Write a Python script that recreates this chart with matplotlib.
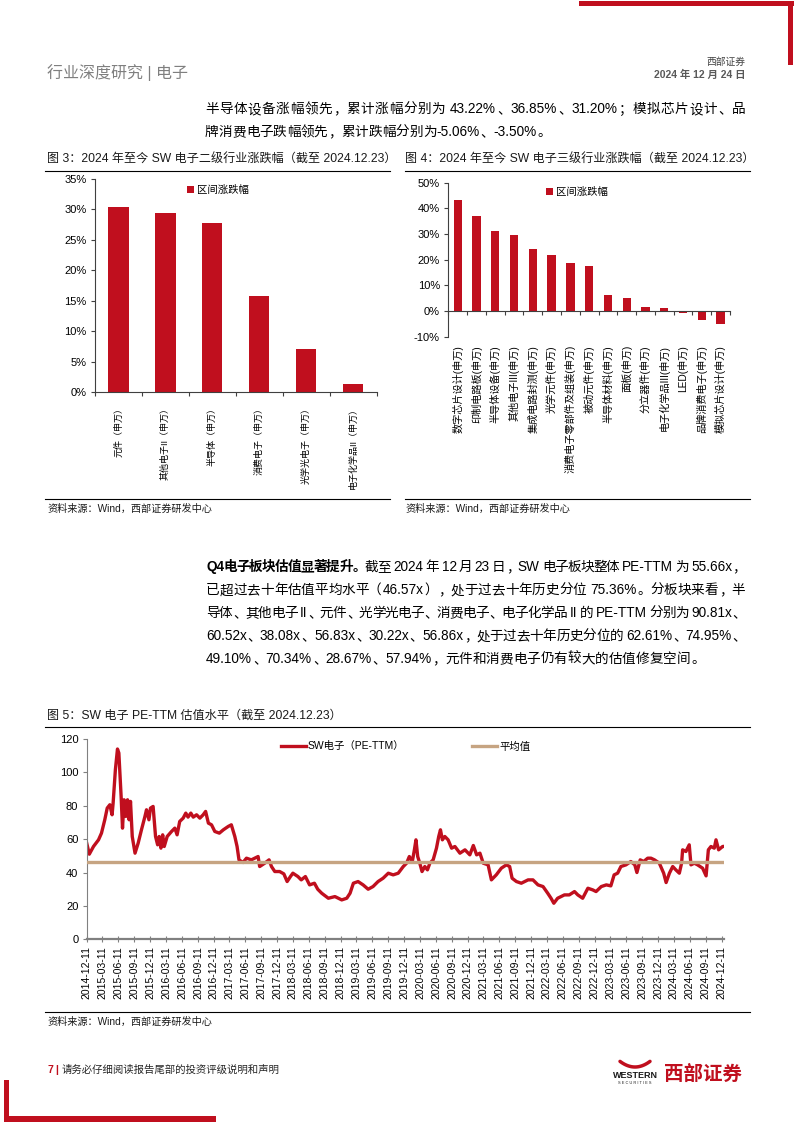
import re
import matplotlib
matplotlib.use('Agg')
import matplotlib.pyplot as plt
from matplotlib.patches import Rectangle, Patch
from matplotlib.lines import Line2D
from matplotlib.font_manager import FontProperties, findfont, get_font
import numpy as np
import pandas as pd

plt.rcParams['font.family'] = ['Liberation Sans', 'Noto Sans CJK SC', 'DejaVu Sans']
plt.rcParams['axes.unicode_minus'] = False

# ---------------- data ----------------
cat3 = ['元件（申万）', '其他电子II（申万）', '半导体（申万）', '消费电子（申万）',
        '光学光电子（申万）', '电子化学品II（申万）']
val3 = [30.4, 29.4, 27.7, 15.8, 7.1, 1.4]

cat4 = ['数字芯片设计(申万)', '印制电路板(申万)', '半导体设备(申万)', '其他电子III(申万)',
        '集成电路封测(申万)', '光学元件(申万)', '消费电子零部件及组装(申万)', '被动元件(申万)',
        '半导体材料(申万)', '面板(申万)', '分立器件(申万)', '电子化学品III(申万)',
        'LED(申万)', '品牌消费电子(申万)', '模拟芯片设计(申万)']
val4 = [43.22, 36.85, 31.20, 29.5, 24.0, 21.7, 18.6, 17.7, 6.1, 5.2, 1.4, 1.3,
        -0.6, -3.50, -5.06]

pe_dates = [
    '2014-12-11', '2014-12-26', '2015-01-19', '2015-02-17', '2015-03-06', '2015-03-25',
    '2015-04-08', '2015-04-23', '2015-05-06', '2015-05-12', '2015-05-25', '2015-06-06',
    '2015-06-14', '2015-06-20', '2015-06-27', '2015-07-05', '2015-07-14', '2015-07-24',
    '2015-08-03', '2015-08-12', '2015-08-20', '2015-08-30', '2015-09-15', '2015-10-03',
    '2015-10-22', '2015-11-11', '2015-11-20', '2015-12-04', '2015-12-13', '2015-12-28',
    '2016-01-11', '2016-01-23', '2016-02-01', '2016-02-11', '2016-02-21', '2016-03-01',
    '2016-03-18', '2016-04-12', '2016-05-01', '2016-05-14', '2016-05-29', '2016-06-18',
    '2016-07-03', '2016-07-16', '2016-08-01', '2016-08-15', '2016-09-03', '2016-09-22',
    '2016-10-11', '2016-10-25', '2016-11-10', '2016-11-28', '2016-12-17', '2017-01-12',
    '2017-02-04', '2017-03-04', '2017-03-22', '2017-04-11', '2017-04-24', '2017-05-05',
    '2017-05-28', '2017-06-17', '2017-07-15', '2017-08-03', '2017-08-23', '2017-09-01',
    '2017-09-30', '2017-10-25', '2017-11-08', '2017-11-27', '2017-12-25', '2018-01-18',
    '2018-02-06', '2018-02-25', '2018-03-11', '2018-04-09', '2018-04-28', '2018-05-22',
    '2018-06-15', '2018-07-13', '2018-08-01', '2018-08-24', '2018-10-01', '2018-11-08',
    '2018-12-17', '2019-01-15', '2019-02-03', '2019-02-22', '2019-03-21', '2019-04-19',
    '2019-05-18', '2019-06-15', '2019-07-14', '2019-08-12', '2019-09-11', '2019-10-09',
    '2019-11-07', '2019-12-06', '2019-12-25', '2020-01-10', '2020-01-27', '2020-02-08',
    '2020-02-17', '2020-02-27', '2020-03-10', '2020-03-23', '2020-04-08', '2020-04-23',
    '2020-05-07', '2020-05-26', '2020-06-14', '2020-06-27', '2020-07-07', '2020-07-18',
    '2020-08-01', '2020-08-20', '2020-09-09', '2020-09-28', '2020-10-27', '2020-11-25',
    '2020-12-23', '2021-01-12', '2021-01-31', '2021-02-19', '2021-03-10', '2021-04-07',
    '2021-04-26', '2021-05-24', '2021-06-22', '2021-07-21', '2021-08-09', '2021-08-23',
    '2021-09-17', '2021-10-15', '2021-11-23', '2021-12-21', '2022-01-19', '2022-02-17',
    '2022-03-16', '2022-04-04', '2022-04-20', '2022-05-12', '2022-06-20', '2022-07-18',
    '2022-08-17', '2022-09-05', '2022-10-03', '2022-11-02', '2022-11-30', '2022-12-19',
    '2023-01-18', '2023-02-16', '2023-03-14', '2023-04-02', '2023-04-22', '2023-05-11',
    '2023-06-09', '2023-07-07', '2023-07-30', '2023-08-11', '2023-08-30', '2023-09-19',
    '2023-10-12', '2023-10-31', '2023-11-20', '2023-12-18', '2024-01-12', '2024-01-26',
    '2024-02-14', '2024-03-04', '2024-03-22', '2024-04-11', '2024-04-24', '2024-04-30',
    '2024-05-19', '2024-06-07', '2024-06-17', '2024-07-06', '2024-07-25', '2024-08-23',
    '2024-09-12', '2024-09-25', '2024-10-10', '2024-10-29', '2024-11-08', '2024-11-23',
    '2024-12-16', '2024-12-23']
pe_vals = [
    57.6, 51.0, 55.6, 59.6, 63.6, 71.6,
    78.6, 80.6, 74.6, 81.6, 101.6, 114.0,
    111.6, 99.6, 85.6, 66.6, 83.6, 73.6,
    83.6, 71.6, 82.6, 61.6, 51.6, 57.6,
    65.6, 73.6, 77.6, 71.6, 78.6, 79.6,
    61.6, 56.6, 61.6, 54.6, 62.6, 55.6,
    61.6, 64.6, 66.6, 62.6, 70.6, 72.6,
    75.6, 73.2, 75.6, 73.2, 74.6, 72.6,
    74.6, 76.6, 69.6, 68.6, 64.6, 63.6,
    65.6, 67.6, 68.6, 61.6, 55.6, 47.6,
    46.0, 48.6, 47.6, 48.6, 49.6, 43.6,
    45.6, 47.6, 43.6, 40.6, 40.6, 39.2,
    34.6, 37.6, 39.6, 37.6, 35.6, 37.6,
    32.6, 33.6, 30.0, 27.6, 24.6, 25.6,
    23.6, 24.6, 27.6, 33.6, 34.6, 32.6,
    30.0, 31.6, 34.6, 36.6, 39.6, 38.6,
    39.6, 43.6, 45.6, 49.6, 46.6, 53.6,
    59.6, 49.6, 45.6, 40.6, 43.6, 41.6,
    45.6, 47.6, 54.6, 61.6, 65.6, 59.6,
    61.6, 59.6, 54.6, 55.6, 51.6, 53.6,
    50.6, 56.2, 50.6, 51.6, 45.6, 44.6,
    35.6, 38.6, 42.6, 44.6, 43.6, 36.6,
    34.6, 33.6, 35.6, 35.6, 32.6, 31.6,
    27.6, 24.6, 21.6, 24.6, 26.6, 26.6,
    28.6, 26.6, 24.6, 30.6, 29.6, 28.6,
    31.6, 32.6, 32.0, 38.6, 39.6, 43.6,
    44.6, 46.6, 44.6, 40.0, 47.6, 46.6,
    48.6, 48.6, 47.6, 45.6, 39.6, 34.0,
    39.6, 43.6, 41.6, 39.6, 45.6, 53.6,
    52.6, 56.6, 44.6, 45.6, 44.6, 42.6,
    38.0, 53.6, 55.6, 54.6, 59.6, 53.6,
    55.6, 55.66]
pe_mean = 46.57
pe_tick_start = '2014-12-11'
pe_tick_count = 41

RED = '#C00F1E'
TAN = '#C6A482'

# ---------------- figure ----------------
W, H = 794, 1123
DPI = 100
fig = plt.figure(figsize=(W / DPI, H / DPI), dpi=DPI)


def fx(x):
    return x / W


def fy(y):
    return 1 - y / H


def ftext(x, y, s, **kw):
    kw.setdefault('va', 'center')
    return fig.text(fx(x), fy(y), s, **kw)


def hline(x0, x1, y, color='black', lw=0.8):
    fig.add_artist(Line2D([fx(x0), fx(x1)], [fy(y), fy(y)], color=color, lw=lw,
                          transform=fig.transFigure))


def rect(x, y, w, h, color):
    fig.add_artist(Rectangle((fx(x), fy(y + h)), w / W, h / H, facecolor=color,
                             edgecolor='none', transform=fig.transFigure))


# ----- justified body text helper -----
LATIN = re.compile(r'[A-Za-z0-9.%\-]+| ')
HF = plt.rcParams['text.hinting_factor']


def latin_adv(s, size, weight):
    f = get_font(findfont(FontProperties(family='Liberation Sans', weight=weight)))
    f.set_size(size, DPI)
    return sum(f.load_char(ord(c)).horiAdvance / 64.0 / HF for c in s)


def body_line(x0, yc, segments, size, x1=None, color='black'):
    toks = []
    for txt, wt in segments:
        for m in re.finditer(r'[A-Za-z0-9.%\-]+| |.', txt):
            toks.append((m.group(), wt))
    em = size * DPI / 72
    advs = []
    for t, wt in toks:
        if LATIN.fullmatch(t):
            advs.append(latin_adv(t, size, wt))
        else:
            advs.append(em)
    extra = 0.0
    if x1 is not None and len(toks) > 1:
        extra = (x1 - x0 - sum(advs)) / (len(toks) - 1)
        extra = max(min(extra, 0.35 * em), -0.12 * em)
    base = yc + 0.38 * em
    x = x0
    for (t, wt), a in zip(toks, advs):
        kw = dict(fontsize=size, fontweight=wt, color=color, va='baseline')
        if t == ' ':
            pass
        elif LATIN.fullmatch(t):
            ftext(x, base, t, ha='left', **kw)
        elif t in '，。、；：':
            ftext(x + 0.08 * em, base, t, ha='left', **kw)
        elif t == '（':
            ftext(x + 0.92 * em, base, t, ha='right', **kw)
        elif t == '）':
            ftext(x + 0.08 * em, base, t, ha='left', **kw)
        else:
            ftext(x + 0.5 * em, base, t, ha='center', **kw)
        x += a + extra


# decorations
rect(579, 1, 215, 5, RED)
rect(788, 1, 5, 64, RED)
rect(4, 1080, 5, 42, RED)
rect(4, 1116, 212, 6, RED)

# header
ftext(47, 73, '行业深度研究 | 电子', fontsize=11.5, color='#7f7f7f')
ftext(745, 62, '西部证券', fontsize=7, color='#404040', ha='right')
ftext(745, 75, '2024 年 12 月 24 日', fontsize=7.5, color='#595959', ha='right',
      fontweight='bold')

# paragraph 1
BODY = 9.8
body_line(205, 108, [('半导体设备涨幅领先，累计涨幅分别为 43.22%、36.85%、31.20%；模拟芯片设计、品',
                      'normal')], BODY, x1=745)
body_line(205, 131, [('牌消费电子跌幅领先，累计跌幅分别为-5.06%、-3.50%。', 'normal')], BODY)

# figure titles
TITLE = 8.7
ftext(47, 160, '图 3：2024 年至今 SW 电子二级行业涨跌幅（截至 2024.12.23）', fontsize=TITLE,
      color='#1a1a1a')
ftext(405, 160, '图 4：2024 年至今 SW 电子三级行业涨跌幅（截至 2024.12.23）', fontsize=TITLE,
      color='#1a1a1a')
hline(45, 390, 171)
hline(405, 750, 171)

# sources
SRC = 7.3
hline(45, 390, 499)
hline(405, 750, 499)
ftext(47, 509, '资料来源：Wind，西部证券研发中心', fontsize=SRC, color='#1a1a1a')
ftext(405, 509, '资料来源：Wind，西部证券研发中心', fontsize=SRC, color='#1a1a1a')

# ---------------- chart 3 ----------------
ax3 = fig.add_axes([fx(95), fy(392.3), 281.7 / W, 213.6 / H])
x3 = np.arange(len(cat3))
ax3.bar(x3, val3, width=0.43, color=RED, zorder=2)
ax3.set_xlim(-0.5, len(cat3) - 0.5)
ax3.set_ylim(0, 35)
ax3.set_yticks(np.arange(0, 36, 5))
ax3.yaxis.set_major_formatter(lambda v, p: f'{v:.0f}%')
ax3.set_xticks(np.arange(len(cat3) + 1) - 0.5)
ax3.tick_params(axis='x', labelbottom=False, direction='out', length=3, color='#404040')
ax3.tick_params(axis='y', labelsize=8, direction='out', length=3, color='#404040', pad=3)
for s in ['top', 'right']:
    ax3.spines[s].set_visible(False)
for s in ['left', 'bottom']:
    ax3.spines[s].set_color('#404040')
    ax3.spines[s].set_linewidth(0.8)
for xi, lab in zip(x3, cat3):
    ax3.text(xi, -0.05, lab, rotation=90, ha='center', va='top', fontsize=6.5,
             transform=ax3.get_xaxis_transform())
ax3.legend(handles=[Patch(facecolor=RED, label='区间涨跌幅')], loc='center',
           bbox_to_anchor=(0.437, 0.947), frameon=False, fontsize=7.5,
           handlelength=0.7, handleheight=0.7, handletextpad=0.3)

# ---------------- chart 4 ----------------
ax4 = fig.add_axes([fx(448.3), fy(336.7), 281.7 / W, 154 / H])
x4 = np.arange(len(cat4))
ax4.bar(x4, val4, width=0.44, color=RED, zorder=2)
ax4.set_xlim(-0.5, len(cat4) - 0.5)
ax4.set_ylim(-10, 50)
ax4.set_yticks(np.arange(-10, 51, 10))
ax4.yaxis.set_major_formatter(lambda v, p: f'{v:.0f}%')
ax4.set_xticks(np.arange(len(cat4) + 1) - 0.5)
ax4.spines['bottom'].set_position(('data', 0))
ax4.tick_params(axis='x', labelbottom=False, direction='out', length=3, color='#404040')
ax4.tick_params(axis='y', labelsize=8, direction='out', length=3, color='#404040', pad=3)
for s in ['top', 'right']:
    ax4.spines[s].set_visible(False)
for s in ['left', 'bottom']:
    ax4.spines[s].set_color('#404040')
    ax4.spines[s].set_linewidth(0.8)
for xi, lab in zip(x4, cat4):
    ax4.text(xi, -0.055, lab, rotation=90, ha='center', va='top', fontsize=7.3,
             transform=ax4.get_xaxis_transform())
ax4.legend(handles=[Patch(facecolor=RED, label='区间涨跌幅')], loc='center',
           bbox_to_anchor=(0.457, 0.94), frameon=False, fontsize=7.5,
           handlelength=0.7, handleheight=0.7, handletextpad=0.3)

# ---------------- paragraph 2 ----------------
body_line(206, 566, [('Q4电子板块估值显著提升。', 'bold'),
                     ('截至 2024 年 12 月 23 日，SW 电子板块整体 PE-TTM 为 55.66x，', 'normal')],
          BODY, x1=745)
para2 = [
    '已超过去十年估值平均水平（46.57x），处于过去十年历史分位 75.36%。分板块来看，半',
    '导体、其他电子 II、元件、光学光电子、消费电子、电子化学品 II 的 PE-TTM 分别为 90.81x、',
    '60.52x、38.08x、56.83x、30.22x、56.86x，处于过去十年历史分位的 62.61%、74.95%、',
    '49.10%、70.34%、28.67%、57.94%，元件和消费电子仍有较大的估值修复空间。',
]
for i, line in enumerate(para2):
    body_line(206, 589 + 23 * i, [(line, 'normal')], BODY,
              x1=745 if i < len(para2) - 1 else None)

# ---------------- chart 5 ----------------
ftext(47, 716, '图 5：SW 电子 PE-TTM 估值水平（截至 2024.12.23）', fontsize=TITLE, color='#1a1a1a')
hline(45, 750, 727)
hline(45, 750, 1012)
ftext(47, 1022, '资料来源：Wind，西部证券研发中心', fontsize=SRC, color='#1a1a1a')

ax5 = fig.add_axes([fx(86.7), fy(939.3), 637.3 / W, 200.3 / H])
d = pd.to_datetime(pe_dates)
ax5.plot(d, pe_vals, color=RED, lw=2.4, label='SW电子（PE-TTM）', zorder=2,
         solid_joinstyle='round')
ax5.axhline(pe_mean, color=TAN, lw=2.4, label='平均值', zorder=3)
tick_dates = [pd.Timestamp(pe_tick_start) + pd.DateOffset(months=3 * i)
              for i in range(pe_tick_count)]
ax5.set_xticks(tick_dates)
ax5.set_xticklabels([td.strftime('%Y-%m-%d') for td in tick_dates], rotation=90,
                    fontsize=7.5)
ax5.set_xlim(pd.Timestamp(pe_tick_start), pd.Timestamp('2024-12-24'))
ax5.set_ylim(0, 120)
ax5.set_yticks(np.arange(0, 121, 20))
ax5.tick_params(axis='y', labelsize=8, direction='out', length=3, color='#808080', pad=3)
ax5.tick_params(axis='x', direction='inout', length=4, color='#808080', pad=3)
for s in ['top', 'right']:
    ax5.spines[s].set_visible(False)
ax5.spines['left'].set_color('#808080')
ax5.spines['left'].set_linewidth(0.8)
ax5.spines['bottom'].set_color('#808080')
ax5.spines['bottom'].set_linewidth(1.6)
ax5.legend(loc='upper center', bbox_to_anchor=(0.5, 1.035), ncol=2, frameon=False,
           fontsize=7.5, handlelength=2.4, columnspacing=6.5, handletextpad=0.2)

# ---------------- footer ----------------
ftext(47, 1070, '7', fontsize=7.5, color=RED, fontweight='bold')
ftext(55, 1070, '|', fontsize=7.5, color=RED, fontweight='bold')
ftext(62, 1070, '请务必仔细阅读报告尾部的投资评级说明和声明', fontsize=7.5, color='#262626')

# logo
hx = np.linspace(620, 650, 30)
hy = 1067 - 0.025 * (hx - 635) ** 2
fig.add_artist(Line2D([fx(v) for v in hx], [fy(v) for v in hy], color=RED, lw=2.5,
                      transform=fig.transFigure, solid_capstyle='round'))
ftext(635, 1076, 'WESTERN', fontsize=6.5, color='#1a1a1a', fontweight='bold', ha='center')
ftext(635, 1083, 'S E C U R I T I E S', fontsize=2.8, color='#1a1a1a', ha='center')
ftext(703, 1074, '西部证券', fontsize=14, color=RED, fontweight='bold', ha='center')

fig.savefig('out.png', dpi=DPI)
